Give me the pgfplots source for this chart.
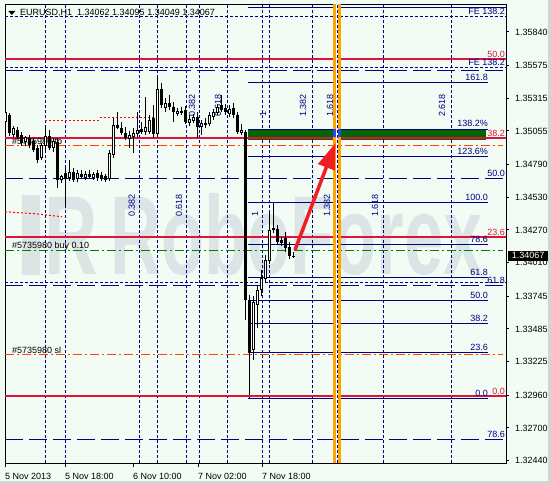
\documentclass[border=0pt]{standalone}
\usepackage{fontspec}
\setmainfont{Liberation Sans}
\usepackage{pgfplots}
\pgfplotsset{compat=1.18}
\usepackage{pgfplotstable}
\usetikzlibrary{arrows.meta}

\definecolor{bgc}{RGB}{242,252,245}
\definecolor{edgegray}{RGB}{212,212,212}
\definecolor{navyc}{RGB}{0,0,128}
\definecolor{crim}{RGB}{220,20,60}
\definecolor{orred}{RGB}{255,69,0}
\definecolor{orband}{RGB}{255,165,0}
\definecolor{grn}{RGB}{0,128,0}
\definecolor{dgrn}{RGB}{0,100,0}
\definecolor{wm}{RGB}{219,229,230}
\definecolor{arrred}{RGB}{238,30,36}
\definecolor{selblue}{RGB}{30,70,255}

\newcommand\lbl{\fontsize{9bp}{10bp}\selectfont}

% EURUSD H1 bars: index, open, high, low, close
\pgfplotstableread{
i o h l c
0 1.35126 1.35221 1.35110 1.35206
1 1.35182 1.35198 1.35015 1.35039
2 1.35023 1.35095 1.35007 1.35079
3 1.35063 1.35087 1.34991 1.35007
4 1.35023 1.35047 1.34936 1.34960
5 1.34968 1.35015 1.34936 1.35007
6 1.34999 1.35023 1.34920 1.34944
7 1.34976 1.34999 1.34888 1.34904
8 1.34920 1.34944 1.34801 1.34825
9 1.34841 1.34960 1.34825 1.34944
10 1.34936 1.35102 1.34904 1.35015
11 1.35015 1.35063 1.34904 1.34920
12 1.34920 1.34999 1.34888 1.34976
13 1.34968 1.34999 1.34603 1.34666
14 1.34666 1.34706 1.34643 1.34698
15 1.34722 1.34761 1.34468 1.34682
16 1.34682 1.34825 1.34658 1.34730
17 1.34730 1.34761 1.34650 1.34666
18 1.34674 1.34746 1.34650 1.34722
19 1.34714 1.34746 1.34674 1.34690
20 1.34682 1.34738 1.34666 1.34714
21 1.34714 1.34746 1.34674 1.34690
22 1.34682 1.34730 1.34666 1.34714
23 1.34722 1.34746 1.34658 1.34682
24 1.34706 1.34730 1.34658 1.34674
25 1.34698 1.34714 1.34650 1.34666
26 1.34674 1.34904 1.34658 1.34880
27 1.34865 1.35158 1.34841 1.35102
28 1.35102 1.35206 1.35071 1.35079
29 1.35079 1.35126 1.35023 1.35039
30 1.35039 1.35087 1.34984 1.34999
31 1.34991 1.35055 1.34920 1.35023
32 1.35007 1.35079 1.34880 1.35039
33 1.35031 1.35206 1.35007 1.35063
34 1.35071 1.35126 1.35031 1.35047
35 1.35047 1.35325 1.35023 1.35087
36 1.35047 1.35182 1.35031 1.35142
37 1.35158 1.35261 1.34999 1.35031
38 1.35031 1.35475 1.35007 1.35388
39 1.35388 1.35436 1.35237 1.35261
40 1.35237 1.35317 1.35206 1.35277
41 1.35277 1.35340 1.35221 1.35245
42 1.35245 1.35285 1.35126 1.35206
43 1.35190 1.35237 1.35174 1.35214
44 1.35214 1.35245 1.35182 1.35198
45 1.35221 1.35253 1.35110 1.35126
46 1.35118 1.35182 1.35095 1.35150
47 1.35134 1.35190 1.35118 1.35166
48 1.35166 1.35206 1.34999 1.35087
49 1.35087 1.35142 1.35023 1.35118
50 1.35118 1.35158 1.35079 1.35102
51 1.35110 1.35206 1.35095 1.35182
52 1.35166 1.35229 1.35142 1.35206
53 1.35198 1.35269 1.35182 1.35245
54 1.35261 1.35340 1.35206 1.35221
55 1.35237 1.35269 1.35182 1.35206
56 1.35190 1.35261 1.35166 1.35229
57 1.35237 1.35277 1.35158 1.35182
58 1.35182 1.35206 1.35031 1.35047
59 1.35039 1.35110 1.35023 1.35063
60 1.35047 1.35063 1.33556 1.33715
61 1.33715 1.33754 1.33175 1.33302
62 1.33318 1.33746 1.33239 1.33699
63 1.33675 1.33833 1.33493 1.33794
64 1.33794 1.33953 1.33746 1.33889
65 1.33881 1.34071 1.33849 1.34032
66 1.34024 1.34405 1.34000 1.34270
67 1.34286 1.34484 1.34246 1.34270
68 1.34278 1.34309 1.34151 1.34175
69 1.34190 1.34214 1.34143 1.34167
70 1.34206 1.34254 1.34095 1.34127
71 1.34135 1.34175 1.34040 1.34062
72 1.34062 1.34095 1.34049 1.34067
}\candles

\pgfplotsset{
  navysolid/.style={navyc, line width=1bp},
  navydot/.style={navyc, line width=1bp, dash pattern=on 3bp off 2bp},
  navydash/.style={navyc, line width=1bp, dash pattern=on 18bp off 6bp},
  redlvl/.style={crim, line width=2bp},
  tpsl/.style={orred, line width=1bp, dash pattern=on 9bp off 3bp on 2bp off 3bp},
  ordln/.style={grn, line width=1bp, dash pattern=on 9bp off 3bp on 2bp off 3bp},
  reddot/.style={red, line width=1bp, dash pattern=on 2bp off 2bp},
}
\tikzset{
  tz/.style={rotate=90, anchor=west, inner sep=0pt, text=navyc, font=\lbl},
  capr/.style={anchor=base east, inner sep=0pt, text=crim, font=\lbl, yshift=2bp},
  capn/.style={anchor=base east, inner sep=0pt, text=navyc, font=\lbl, yshift=2bp},
}

\begin{document}
\begin{tikzpicture}
\useasboundingbox (0,0) rectangle (551bp,484bp);
\fill[bgc] (0,0) rectangle (551bp,484bp);
\fill[edgegray] (548bp,0) rectangle (551bp,484bp);
\fill[edgegray] (0,0) rectangle (551bp,3bp);

\begin{axis}[
  at={(5bp,20.5bp)}, anchor=south west,
  scale only axis, width=501bp, height=459bp,
  xmin=-0.125, xmax=125.125, ymin=1.32418, ymax=1.36058,
  clip mode=individual,
  axis line style={black, line width=1bp},
  tick style={black, line width=1bp},
  tick align=outside, major tick length=3bp,
  xtick pos=left, ytick pos=right, yticklabel pos=right,
  xtick={-0.125,14.875,31.875,48.125,64.125},
  xticklabels={5 Nov 2013,5 Nov 18:00,6 Nov 10:00,7 Nov 02:00,7 Nov 18:00},
  ytick={1.3244,1.327,1.3296,1.33225,1.33485,1.33745,1.3401,1.3427,1.3453,1.3479,1.35055,1.35315,1.35575,1.3584},
  yticklabels={1.32440,1.32700,1.32960,1.33225,1.33485,1.33745,1.34010,1.34270,1.34530,1.34790,1.35055,1.35315,1.35575,1.35840},
  tick label style={font=\lbl, inner sep=0pt},
  xticklabel style={anchor=north west, yshift=-6.5bp},
  yticklabel style={anchor=west, xshift=6bp},
  /pgf/number format/assume math mode=true,
  scaled y ticks=false,
]

% watermark
\fill[wm] (axis cs:4.125,1.33913) rectangle (axis cs:8.625,1.34547);
\node[anchor=base west, inner sep=0pt, text=wm, font=\bfseries\fontsize{112bp}{112bp}\selectfont, xscale=0.66] at (axis cs:9.625,1.33913) {R};
\node[anchor=base west, inner sep=0pt, text=wm, font=\bfseries\fontsize{112bp}{112bp}\selectfont, xscale=0.63] at (axis cs:26.125,1.33913) {RoboForex};

% Fibonacci time zones
\pgfplotsinvokeforeach{9.875,14.875,33.375,37.875,45.125,48.375,55.375,64.125,65.875,76.625,94.375,111.375}{
  \addplot[navydot] coordinates {(#1,1.32418) (#1,1.36058)};
}

% levels spanning the whole chart
\addplot[navydot] coordinates {(-0.125,1.35959) (125.125,1.35959)};
\addplot[navydot] coordinates {(-0.125,1.35562) (125.125,1.35562)};
\addplot[navydot] coordinates {(-0.125,1.33855) (125.125,1.33855)};
\addplot[navydash] coordinates {(-0.125,1.35538) (125.125,1.35538)};
\addplot[navydash] coordinates {(-0.125,1.34682) (125.125,1.34682)};
\addplot[navydash] coordinates {(-0.125,1.33826) (125.125,1.33826)};
\addplot[navydash] coordinates {(-0.125,1.32607) (125.125,1.32607)};
\addplot[navysolid] coordinates {(60.625,1.36033) (125.125,1.36033)};

% retracement from the 1.32935 low to the 1.34484 high
\addplot[navysolid] coordinates {(60.625,1.35441) (120.625,1.35441)};
\addplot[navysolid] coordinates {(60.625,1.34850) (120.625,1.34850)};
\addplot[navysolid] coordinates {(60.625,1.34484) (120.625,1.34484)};
\addplot[navysolid] coordinates {(60.625,1.34153) (120.625,1.34153)};
\addplot[navysolid] coordinates {(60.625,1.33892) (120.625,1.33892)};
\addplot[navysolid] coordinates {(60.625,1.33710) (120.625,1.33710)};
\addplot[navysolid] coordinates {(60.625,1.33527) (120.625,1.33527)};
\addplot[navysolid] coordinates {(60.625,1.33301) (120.625,1.33301)};
\addplot[navysolid] coordinates {(60.625,1.32935) (120.625,1.32935)};
\addplot[black, line width=1bp] coordinates {(60.875,1.33300) (60.875,1.32935)};

% previous highs
\addplot[reddot] coordinates {(9.875,1.35142) (23.625,1.35142)};
\addplot[reddot] coordinates {(23.625,1.35158) (36.875,1.35158)};
\addplot[reddot] coordinates {(-0.125,1.34415) (7.375,1.34399) (14.125,1.34375)};

% order lines
\addplot[tpsl] coordinates {(-0.125,1.34938) (124.375,1.34938)};
\addplot[tpsl] coordinates {(-0.125,1.33282) (124.375,1.33282)};
\addplot[ordln] coordinates {(-0.125,1.34106) (124.375,1.34106)};

% main red retracement
\addplot[redlvl] coordinates {(-0.125,1.35625) (125.125,1.35625)};
\addplot[redlvl] coordinates {(-0.125,1.34214) (125.125,1.34214)};
\addplot[redlvl] coordinates {(-0.125,1.32953) (125.125,1.32953)};

% target zone 138.2%
\addplot[fill=dgrn, draw=none] coordinates {(60.625,1.35070) (120.125,1.35070) (120.125,1.34984) (60.625,1.34984)} -- cycle;
\addplot[navysolid] coordinates {(60.625,1.35070) (120.625,1.35070)};
\addplot[redlvl] coordinates {(-0.125,1.34998) (125.125,1.34998)};

% highlighted time zone
\addplot[orband, line width=7.4bp] coordinates {(82.875,1.32418) (82.875,1.36058)};
\addplot[fill=selblue, draw=none] coordinates {(81.95,1.35068) (83.80,1.35068) (83.80,1.35005) (81.95,1.35005)} -- cycle;
\addplot[white, line width=2.6bp] coordinates {(82.875,1.32418) (82.875,1.36058)};
\addplot[navydot] coordinates {(82.875,1.32418) (82.875,1.36058)};

% time zone ratios
\node[tz] at (axis cs:46.625,1.35166) {0.382};
\node[tz] at (axis cs:53.125,1.35166) {0.618};
\node[tz] at (axis cs:64.375,1.35166) {1};
\node[tz] at (axis cs:74.375,1.35166) {1.382};
\node[tz] at (axis cs:81.125,1.35166) {1.618};
\node[tz] at (axis cs:109.125,1.35166) {2.618};
\node[tz] at (axis cs:31.55,1.34373) {0.382};
\node[tz] at (axis cs:43.375,1.34373) {0.618};
\node[tz] at (axis cs:62.375,1.34373) {1};
\node[tz] at (axis cs:80.375,1.34373) {1.382};
\node[tz] at (axis cs:92.375,1.34373) {1.618};

% order labels
\node[anchor=base west, inner sep=0pt, font=\lbl, yshift=1.5bp] at (axis cs:1.625,1.34938) {\#5735980 tp};
\node[anchor=base west, inner sep=0pt, font=\lbl, yshift=2bp] at (axis cs:1.625,1.34106) {\#5735980 buy 0.10};
\node[anchor=base west, inner sep=0pt, font=\lbl, yshift=1.5bp] at (axis cs:1.625,1.33282) {\#5735980 sl};

% candles: wicks, bodies, hollow centres of rising bars
\addplot[black, line width=1bp, quiver={u=0, v=\thisrow{h}-\thisrow{l}}]
  table[x=i, y=l] {\candles};
\addplot[black, line width=3bp, quiver={u=0, v=\thisrow{c}-\thisrow{o}}]
  table[x=i, y=o] {\candles};
\addplot[white, line width=1bp,
  restrict expr to domain={\thisrow{c}-\thisrow{o}}{0.0002:1},
  quiver={u=0, v=\thisrow{c}-\thisrow{o}, every arrow/.style={shorten <=1bp, shorten >=1bp}}]
  table[x=i, y=o] {\candles};

% level captions
\node[capr] at (axis cs:124.875,1.35625) {50.0};
\node[capr] at (axis cs:124.875,1.34998) {38.2};
\node[capr] at (axis cs:124.875,1.34214) {23.6};
\node[capr] at (axis cs:124.875,1.32953) {0.0};
\node[capn] at (axis cs:124.875,1.35959) {FE 138.2};
\node[capn] at (axis cs:124.875,1.35562) {FE 138.2};
\node[capn] at (axis cs:124.875,1.34682) {50.0};
\node[capn] at (axis cs:124.875,1.33826) {61.8};
\node[capn] at (axis cs:124.875,1.32607) {78.6};
\node[capn] at (axis cs:120.625,1.35441) {161.8};
\node[capn] at (axis cs:120.625,1.35076) {138.2\%};
\node[capn] at (axis cs:120.625,1.34850) {123.6\%};
\node[capn] at (axis cs:120.625,1.34484) {100.0};
\node[capn] at (axis cs:120.625,1.34153) {78.6};
\node[capn] at (axis cs:120.625,1.33892) {61.8};
\node[capn] at (axis cs:120.625,1.33710) {50.0};
\node[capn] at (axis cs:120.625,1.33527) {38.2};
\node[capn] at (axis cs:120.625,1.33301) {23.6};
\node[capn] at (axis cs:120.625,1.32935) {0.0};

% projected move
\addplot[arrred, line width=3.5bp, -{Triangle[length=26bp,width=17bp]}] coordinates {(72.375,1.34111) (82.5,1.34960)};
\end{axis}

% header
\fill (8.3bp,473bp) -- (15.3bp,473bp) -- (11.8bp,469bp) -- cycle;
\node[anchor=west, inner sep=0pt, font=\lbl] at (20bp,471.5bp) {EURUSD,H1\ \ 1.34062 1.34095 1.34049 1.34067};

% current price marker
\fill[black] (508.3bp,223.3bp) rectangle (548bp,233.3bp);
\node[anchor=west, inner sep=0pt, text=white, font=\lbl] at (511.7bp,228.4bp) {1.34067};
\end{tikzpicture}
\end{document}
